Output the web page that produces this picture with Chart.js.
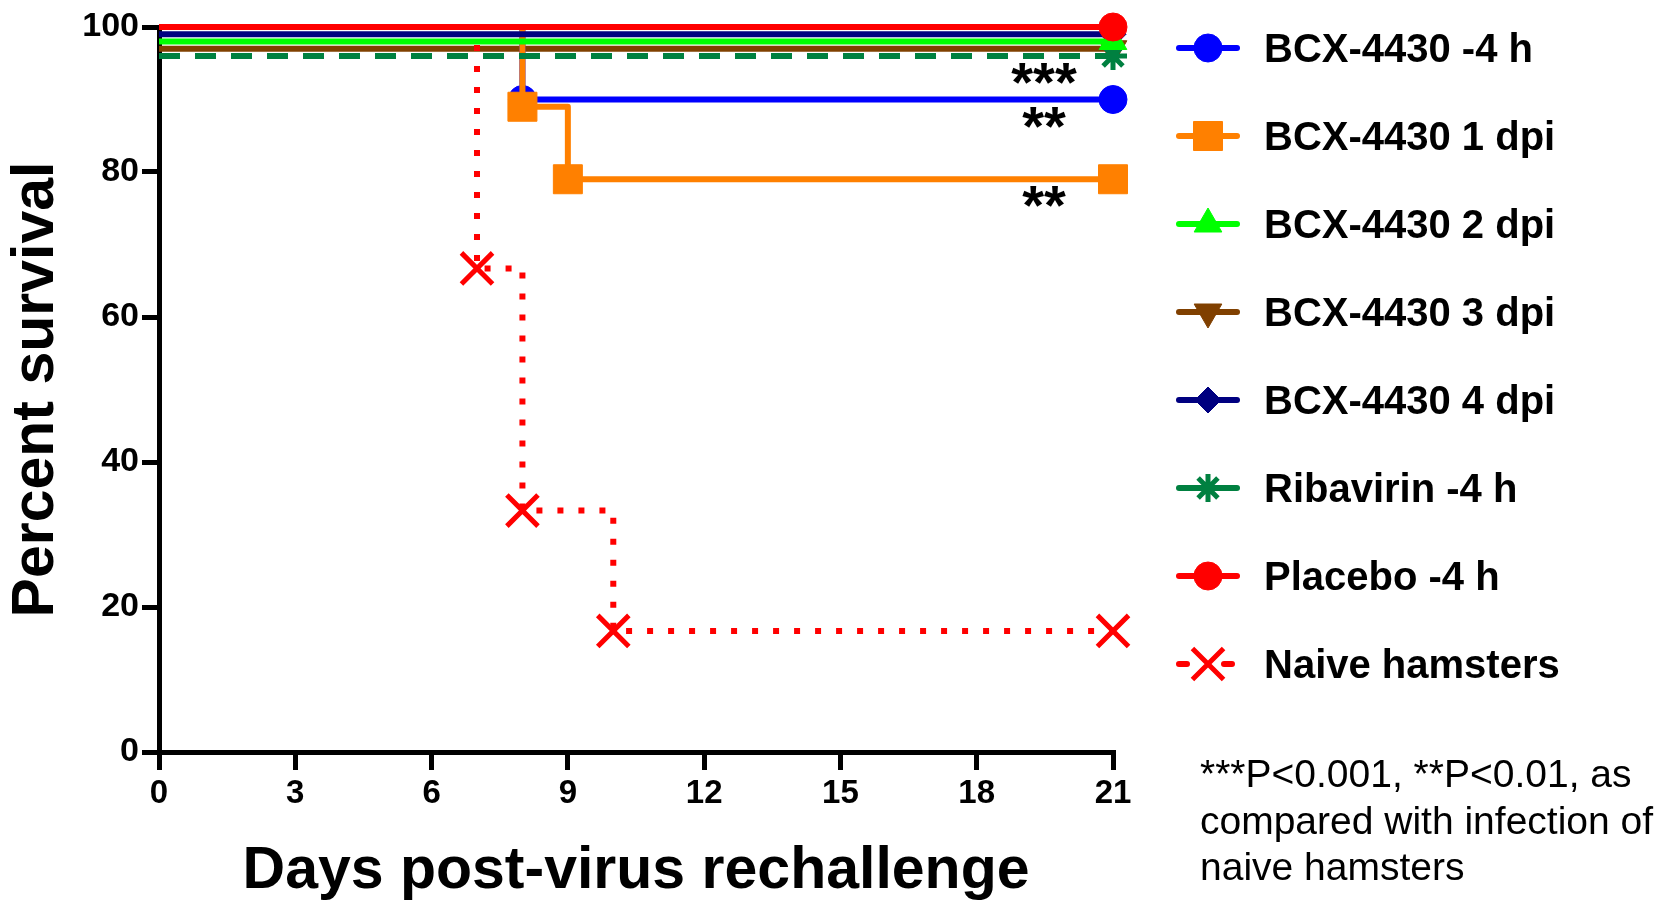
<!DOCTYPE html>
<html>
<head>
<meta charset="utf-8">
<title>Percent survival after virus rechallenge</title>
<script src="https://cdn.jsdelivr.net/npm/chart.js@4.4.1/dist/chart.umd.min.js"></script>
<style>
  html, body { margin: 0; padding: 0; background: #ffffff; }
  canvas { display: block; }
</style>
</head>
<body>
<canvas id="survivalChart" width="1678" height="903"></canvas>
<script>
// ---- Survival data (Kaplan-Meier steps: day of event, % surviving) ----
const seriesNames = [
  'BCX-4430 -4 h', 'BCX-4430 1 dpi', 'BCX-4430 2 dpi', 'BCX-4430 3 dpi',
  'BCX-4430 4 dpi', 'Ribavirin -4 h', 'Placebo -4 h', 'Naive hamsters'
];

const bcxMinus4hDays = [0, 8, 21];
const bcxMinus4hSurvival = [100, 90, 90];

const bcx1dpiDays = [0, 8, 9, 21];
const bcx1dpiSurvival = [100, 89, 79, 79];

const bcx2dpiDays = [0, 21];
const bcx2dpiSurvival = [98, 98];

const bcx3dpiDays = [0, 21];
const bcx3dpiSurvival = [97, 97];

const bcx4dpiDays = [0, 21];
const bcx4dpiSurvival = [99, 99];

const ribavirinDays = [0, 21];
const ribavirinSurvival = [96, 96];

const placeboDays = [0, 21];
const placeboSurvival = [100, 100];

const naiveDays = [0, 7, 8, 10, 21];
const naiveSurvival = [100, 66.7, 33.3, 16.7, 16.7];

const dayTicks = [0, 3, 6, 9, 12, 15, 18, 21];
const survivalTicks = [0, 20, 40, 60, 80, 100];

// significance marks printed under a curve's final value
const significanceSeries = ['Ribavirin -4 h', 'BCX-4430 -4 h', 'BCX-4430 1 dpi'];
const significanceText = ['***', '**', '**'];

const footnoteLines = [
  '***P<0.001, **P<0.01, as',
  'compared with infection of',
  'naive hamsters'
];

// ---- Appearance of each curve ----
const seriesDays = [bcxMinus4hDays, bcx1dpiDays, bcx2dpiDays, bcx3dpiDays, bcx4dpiDays, ribavirinDays, placeboDays, naiveDays];
const seriesSurvival = [bcxMinus4hSurvival, bcx1dpiSurvival, bcx2dpiSurvival, bcx3dpiSurvival, bcx4dpiSurvival, ribavirinSurvival, placeboSurvival, naiveSurvival];

const styles = [
  { color: '#0000ff', point: 'circle',   radius: 14,   rotation: 0,   dash: [],       order: 6 },
  { color: '#ff8000', point: 'rect',     radius: 20.5, rotation: 0,   dash: [],       order: 5 },
  { color: '#00ff00', point: 'triangle', radius: 16,   rotation: 0,   dash: [],       order: 2 },
  { color: '#804000', point: 'triangle', radius: 16,   rotation: 180, dash: [],       order: 7 },
  { color: '#000080', point: 'rectRot',  radius: 13,   rotation: 0,   dash: [],       order: 3 },
  { color: '#008040', point: 'star',     radius: 14,   rotation: 0,   dash: [21, 15], order: 4 },
  { color: '#ff0000', point: 'circle',   radius: 14,   rotation: 0,   dash: [],       order: 0 },
  { color: '#ff0000', point: 'crossRot', radius: 22,   rotation: 0,   dash: [6, 15],  order: 1 }
];

const FONT = '"Liberation Sans", Arial, Helvetica, sans-serif';

function isStrokeOnly(st) {
  return st.point === 'star' || st.point === 'crossRot';
}

const datasets = seriesNames.map((name, i) => {
  const st = styles[i];
  return {
    label: name,
    data: seriesDays[i].map((d, k) => ({ x: d, y: seriesSurvival[i][k] })),
    stepped: 'before',
    borderColor: st.color,
    backgroundColor: st.color,
    borderWidth: 6,
    borderDash: st.dash,
    borderCapStyle: 'butt',
    borderJoinStyle: 'round',
    fill: false,
    order: st.order,
    clip: false,
    pointStyle: st.point,
    pointRotation: st.rotation,
    pointRadius: ctx => (ctx.dataIndex === 0 ? 0 : st.radius),
    pointHoverRadius: ctx => (ctx.dataIndex === 0 ? 0 : st.radius),
    pointBackgroundColor: st.color,
    pointBorderColor: st.color,
    pointBorderWidth: isStrokeOnly(st) ? 5 : 1
  };
});

// ---- Legend, significance marks and footnote ----
function drawMarker(ctx, st, x, y) {
  const bw = isStrokeOnly(st) ? 5 : 1;
  ctx.save();
  ctx.setLineDash([]);
  ctx.fillStyle = st.color;
  ctx.strokeStyle = st.color;
  ctx.lineWidth = bw;
  if (Chart.helpers && Chart.helpers.drawPoint) {
    Chart.helpers.drawPoint(ctx, {
      pointStyle: st.point,
      radius: st.radius,
      rotation: st.rotation,
      borderWidth: bw
    }, x, y);
  }
  ctx.restore();
}

const annotationPlugin = {
  id: 'survivalAnnotations',
  afterDraw(chart) {
    const ctx = chart.ctx;
    const area = chart.chartArea;
    const xs = chart.scales.x;
    const ys = chart.scales.y;

    // significance asterisks
    ctx.save();
    ctx.fillStyle = '#000';
    ctx.font = 'bold 56px ' + FONT;
    ctx.textAlign = 'center';
    ctx.textBaseline = 'alphabetic';
    significanceSeries.forEach((name, k) => {
      const i = seriesNames.indexOf(name);
      const days = seriesDays[i];
      const vals = seriesSurvival[i];
      const px = xs.getPixelForValue(days[days.length - 1]) - 69;
      const py = ys.getPixelForValue(vals[vals.length - 1]) + 13;
      ctx.fillText(significanceText[k], px, py + 32);
    });
    ctx.restore();

    // legend
    const x0 = area.right + 64;
    const x1 = x0 + 62;
    const mx = x0 + 31;
    const tx = x1 + 25;
    seriesNames.forEach((name, i) => {
      const st = styles[i];
      const y = area.top + 21 + i * 88;
      ctx.save();
      ctx.strokeStyle = st.color;
      ctx.lineWidth = 6;
      ctx.lineCap = 'round';
      ctx.beginPath();
      if (st.point === 'crossRot') {
        ctx.moveTo(x0 + 2, y); ctx.lineTo(x0 + 10, y);
        ctx.moveTo(x1 - 15, y); ctx.lineTo(x1 - 7, y);
      } else {
        ctx.moveTo(x0 + 2, y); ctx.lineTo(x1 - 2, y);
      }
      ctx.stroke();
      ctx.restore();
      drawMarker(ctx, st, mx, y);
      ctx.save();
      ctx.fillStyle = '#000';
      ctx.font = 'bold 40px ' + FONT;
      ctx.textAlign = 'left';
      ctx.textBaseline = 'alphabetic';
      ctx.fillText(name, tx, y + 14);
      ctx.restore();
    });

    // footnote
    ctx.save();
    ctx.fillStyle = '#000';
    ctx.font = '39px ' + FONT;
    ctx.textAlign = 'left';
    ctx.textBaseline = 'alphabetic';
    footnoteLines.forEach((line, k) => {
      ctx.fillText(line, area.right + 87, 787 + k * 46.5);
    });
    ctx.restore();
  }
};

new Chart(document.getElementById('survivalChart'), {
  type: 'line',
  data: { datasets },
  options: {
    responsive: false,
    animation: false,
    devicePixelRatio: 1,
    layout: { padding: { top: 24, right: 565, bottom: 0, left: 0 } },
    plugins: { legend: { display: false }, tooltip: { enabled: false } },
    scales: {
      x: {
        type: 'linear',
        min: 0,
        max: 21,
        afterBuildTicks: s => { s.ticks = dayTicks.map(v => ({ value: v })); },
        afterFit: s => { s.height = 151; },
        grid: { drawOnChartArea: false, drawTicks: true, tickLength: 18, tickWidth: 5, tickColor: '#000', lineWidth: 5, color: '#000' },
        border: { display: true, color: '#000', width: 5 },
        ticks: { color: '#000', padding: 4, font: { family: FONT, size: 33, weight: 'bold', lineHeight: 1.2 }, maxRotation: 0, autoSkip: false },
        title: { display: true, text: 'Days post-virus rechallenge', color: '#000', font: { family: FONT, size: 59, weight: 'bold', lineHeight: 1 }, padding: { top: 0, bottom: 2 } }
      },
      y: {
        type: 'linear',
        min: 0,
        max: 100,
        afterBuildTicks: s => { s.ticks = survivalTicks.map(v => ({ value: v })); },
        afterFit: s => { s.width = 159; },
        grid: { drawOnChartArea: false, drawTicks: true, tickLength: 17, tickWidth: 5, tickColor: '#000', lineWidth: 5, color: '#000' },
        border: { display: true, color: '#000', width: 5 },
        ticks: { color: '#000', padding: 3, font: { family: FONT, size: 34, weight: 'bold', lineHeight: 1.2 }, autoSkip: false },
        title: { display: true, text: 'Percent survival', color: '#000', font: { family: FONT, size: 59, weight: 'bold', lineHeight: 1.2 }, padding: { top: 1, bottom: 0 } }
      }
    }
  },
  plugins: [annotationPlugin]
});
</script>
</body>
</html>
